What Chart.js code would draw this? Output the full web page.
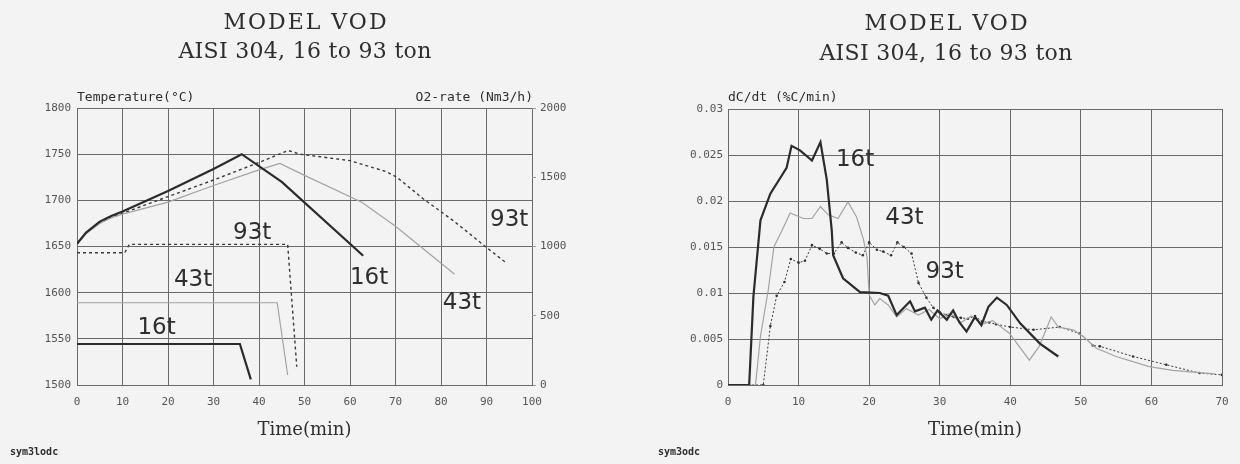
<!DOCTYPE html>
<html>
<head>
<meta charset="utf-8">
<script src="https://cdn.jsdelivr.net/npm/chart.js@4.4.1/dist/chart.umd.min.js"></script>
<style>
  body { margin: 0; background: #f3f3f3; }
  .panel { position: absolute; top: 0; width: 620px; height: 464px; }
  #panelIzq { left: 0; }
  #panelDer { left: 620px; }
</style>
</head>
<body>
<div class="panel" id="panelIzq"><canvas id="graficoTemp" width="620" height="464"></canvas></div>
<div class="panel" id="panelDer"><canvas id="graficoDecarb" width="620" height="464"></canvas></div>
<script>
// Temperatura (°C) frente a tiempo (min)
const tiempoTemp16 = [0, 2, 5, 7.5, 10, 20, 30, 36.2, 45, 62.9];
const temp16 = [1653, 1665, 1677, 1683, 1688, 1710, 1734, 1750, 1720, 1640];
const tiempoTemp43 = [0, 2, 5, 7.5, 10, 20, 30, 40, 44.6, 50, 62.6, 70, 83];
const temp43 = [1653, 1664, 1675, 1681, 1685, 1698, 1716, 1733, 1740, 1727, 1698, 1672, 1620];
const tiempoTemp93 = [0, 2, 5, 7.5, 10, 20, 30, 40, 46.4, 49, 60, 68, 70.3, 76, 82.7, 90, 94.4];
const temp93 = [1653, 1665, 1676, 1682, 1686, 1704, 1722, 1741, 1754, 1750, 1743, 1731, 1725, 1702, 1678, 1649, 1632];

// Caudal de O2 (Nm3/h)
const tiempoO2_16 = [0, 35.8, 38.2];
const o2_16 = [296, 296, 41];
const tiempoO2_43 = [0, 44, 46.3];
const o2_43 = [594, 594, 72];
const tiempoO2_93 = [0, 10.5, 11.5, 46.3, 48.3];
const o2_93 = [955, 955, 1015, 1015, 132];

// Velocidad de descarburación dC/dt (%C/min)
const tiempoDc16 = [0, 3, 3.6, 4.6, 6, 7.4, 8.3, 9, 10.2, 11.9, 13.1, 14, 14.7, 14.9, 16.3, 18.7, 21.5, 22.7, 23.9, 25.8, 26.5, 27.9, 28.8, 29.7, 31, 31.9, 32.8, 33.8, 35, 35.9, 36.9, 38.1, 39.5, 41.4, 44.2, 46.8];
const dc16 = [0, 0, 0.0096, 0.0179, 0.0208, 0.0225, 0.0236, 0.026, 0.0255, 0.0244, 0.0264, 0.0223, 0.0168, 0.0141, 0.0116, 0.0101, 0.0100, 0.0097, 0.0076, 0.0091, 0.008, 0.0084, 0.0071, 0.0081, 0.0071, 0.0081, 0.0068, 0.0058, 0.0074, 0.0065, 0.0085, 0.0095, 0.0087, 0.0067, 0.0045, 0.0031];
const tiempoDc43 = [0, 3.9, 4.6, 5.7, 6.5, 7.6, 8.8, 10.7, 11.9, 13.1, 14.2, 15.6, 17, 18.2, 19.2, 19.7, 20, 20.8, 21.5, 22.7, 23.9, 25.3, 27, 28.5, 30, 31.5, 33, 34.5, 36, 37.5, 39.9, 42.7, 44.1, 45.8, 46.8, 48.9, 50.3, 52.2, 55, 59.7, 63, 69];
const dc43 = [0, 0, 0.0053, 0.0103, 0.015, 0.0167, 0.0187, 0.0181, 0.0181, 0.0194, 0.0185, 0.0181, 0.0199, 0.0183, 0.0158, 0.0139, 0.0098, 0.0087, 0.0094, 0.0087, 0.0074, 0.0083, 0.0076, 0.0082, 0.0072, 0.0078, 0.0068, 0.0075, 0.0066, 0.007, 0.0056, 0.0027, 0.0042, 0.0074, 0.0063, 0.006, 0.0053, 0.004, 0.0031, 0.002, 0.0016, 0.0012];
const tiempoDc93 = [0, 5, 6, 6.9, 8, 8.9, 10, 10.9, 11.9, 13, 14, 15, 16.1, 17, 18.1, 19.1, 20, 21.1, 22, 23.1, 24, 24.9, 26, 27, 28.1, 29.1, 30, 31, 32, 33, 34, 35, 36, 37, 38, 40, 43.3, 47, 49.8, 51.7, 52.7, 57.4, 62.1, 66.8, 70];
const dc93 = [0, 0, 0.0064, 0.0097, 0.0112, 0.0137, 0.0133, 0.0135, 0.0152, 0.0148, 0.0143, 0.0143, 0.0155, 0.0149, 0.0144, 0.0141, 0.0155, 0.0147, 0.0145, 0.0141, 0.0155, 0.015, 0.0143, 0.0111, 0.0095, 0.0084, 0.0079, 0.0076, 0.0074, 0.0073, 0.0072, 0.0075, 0.0069, 0.0068, 0.0066, 0.0063, 0.006, 0.0063, 0.0056, 0.0043, 0.0042, 0.0031, 0.0022, 0.0013, 0.0011];

// Textos
const titulo = ['MODEL VOD', 'AISI 304, 16 to 93 ton'];
const tituloEjeX = 'Time(min)';

// Estilos de línea
const grueso = { borderColor: '#2b2b2b', borderWidth: 2.2 };
const fino = { borderColor: '#a3a3a3', borderWidth: 1.2 };
const punteado = { borderColor: '#3a3a3a', borderWidth: 1.4, borderDash: [3, 3] };
const punteadoConPuntos = { borderColor: '#3a3a3a', borderWidth: 1, borderDash: [2, 2], pointRadius: 1.3, pointBackgroundColor: '#333', pointBorderWidth: 0 };

const colorRejilla = '#6a6a6a';
const fuenteTicks = { family: 'DejaVu Sans Mono', size: 11 };

function serie(xs, ys, estilo, eje) {
    return Object.assign({
        data: xs.map((x, i) => ({ x: x, y: ys[i] })),
        yAxisID: eje,
        pointRadius: 0,
        tension: 0,
        fill: false
    }, estilo);
}

// Plugin que dibuja títulos, rótulos de ejes y etiquetas de cada serie
function crearTextos(cfg) {
    return {
        id: 'textos',
        afterDraw(chart) {
            const ctx = chart.ctx;
            const area = chart.chartArea;
            ctx.save();
            ctx.fillStyle = '#2e2e2e';
            ctx.textAlign = 'center';
            ctx.textBaseline = 'alphabetic';
            ctx.font = '22px "DejaVu Serif"';
            ctx.letterSpacing = '2px';
            ctx.fillText(titulo[0], cfg.tituloX + 1, cfg.tituloY[0]);
            ctx.letterSpacing = '0.3px';
            ctx.fillText(titulo[1], cfg.tituloX, cfg.tituloY[1]);
            ctx.letterSpacing = '0px';

            ctx.font = '18px "DejaVu Serif"';
            ctx.fillText(tituloEjeX, (area.left + area.right) / 2, 435);

            ctx.font = '13px "DejaVu Sans Mono"';
            ctx.textAlign = 'left';
            ctx.fillText(cfg.ejeIzq, area.left, 101);
            if (cfg.ejeDer) {
                ctx.textAlign = 'right';
                ctx.fillText(cfg.ejeDer, area.right + 1, 101);
            }

            ctx.font = 'bold 10px "DejaVu Sans Mono"';
            ctx.textAlign = 'left';
            ctx.fillText(cfg.pie, cfg.pieX, 455);

            ctx.font = '23px "DejaVu Sans"';
            ctx.textAlign = 'center';
            ctx.textBaseline = 'middle';
            cfg.etiquetas.forEach(e => {
                const x = chart.scales.x.getPixelForValue(e.x);
                const y = chart.scales[e.eje].getPixelForValue(e.y);
                ctx.fillText(e.texto, x, y);
            });
            ctx.restore();
        }
    };
}

function ejeX(max) {
    return {
        type: 'linear', min: 0, max: max,
        afterFit: (s) => { s.height = 79; },
        ticks: { stepSize: 10, color: '#555', font: fuenteTicks, padding: 11, maxRotation: 0 },
        grid: { color: colorRejilla, drawTicks: false },
        border: { color: colorRejilla }
    };
}

new Chart(document.getElementById('graficoTemp'), {
    type: 'line',
    data: {
        datasets: [
            serie(tiempoTemp16, temp16, grueso, 'y'),
            serie(tiempoTemp43, temp43, fino, 'y'),
            serie(tiempoTemp93, temp93, punteado, 'y'),
            serie(tiempoO2_16, o2_16, grueso, 'y2'),
            serie(tiempoO2_43, o2_43, fino, 'y2'),
            serie(tiempoO2_93, o2_93, punteado, 'y2')
        ]
    },
    options: {
        responsive: false,
        animation: false,
        devicePixelRatio: 1,
        layout: { padding: { top: 108, left: 0, right: 0, bottom: 0 } },
        plugins: { legend: { display: false }, tooltip: { enabled: false } },
        scales: {
            x: ejeX(100),
            y: {
                min: 1500, max: 1800,
                afterFit: (s) => { s.width = 77; },
                ticks: { stepSize: 50, color: '#555', font: fuenteTicks, padding: 6, callback: v => String(v) },
                grid: { color: colorRejilla, drawTicks: false },
                border: { color: colorRejilla }
            },
            y2: {
                position: 'right',
                min: 0, max: 2000,
                afterFit: (s) => { s.width = 88; },
                ticks: { stepSize: 500, color: '#555', font: fuenteTicks, padding: 4, callback: v => String(v) },
                grid: { drawOnChartArea: false, color: '#999', tickLength: 4 },
                border: { display: false }
            }
        }
    },
    plugins: [crearTextos({
        tituloX: 305, tituloY: [29, 58],
        ejeIzq: 'Temperature(°C)', ejeDer: 'O2-rate (Nm3/h)',
        pie: 'sym3lodc', pieX: 10,
        etiquetas: [
            { texto: '93t', x: 38.5, y: 1665, eje: 'y' },
            { texto: '43t', x: 25.5, y: 1614, eje: 'y' },
            { texto: '16t', x: 17.5, y: 1562, eje: 'y' },
            { texto: '16t', x: 64.2, y: 1616, eje: 'y' },
            { texto: '43t', x: 84.6, y: 1589, eje: 'y' },
            { texto: '93t', x: 95, y: 1679, eje: 'y' }
        ]
    })]
});

new Chart(document.getElementById('graficoDecarb'), {
    type: 'line',
    data: {
        datasets: [
            serie(tiempoDc16, dc16, grueso, 'y'),
            serie(tiempoDc43, dc43, fino, 'y'),
            serie(tiempoDc93, dc93, punteadoConPuntos, 'y')
        ]
    },
    options: {
        responsive: false,
        animation: false,
        devicePixelRatio: 1,
        layout: { padding: { top: 109, left: 0, right: 18, bottom: 0 } },
        plugins: { legend: { display: false }, tooltip: { enabled: false } },
        scales: {
            x: ejeX(70),
            y: {
                min: 0, max: 0.03,
                afterFit: (s) => { s.width = 108; },
                ticks: { stepSize: 0.005, color: '#555', font: fuenteTicks, padding: 5, callback: v => String(Math.round(v * 1000) / 1000) },
                grid: { color: colorRejilla, drawTicks: false },
                border: { color: colorRejilla }
            }
        }
    },
    plugins: [crearTextos({
        tituloX: 326, tituloY: [30, 60],
        ejeIzq: 'dC/dt (%C/min)',
        pie: 'sym3odc', pieX: 38,
        etiquetas: [
            { texto: '16t', x: 18, y: 0.0245, eje: 'y' },
            { texto: '43t', x: 25, y: 0.0182, eje: 'y' },
            { texto: '93t', x: 30.7, y: 0.0123, eje: 'y' }
        ]
    })]
});
</script>
</body>
</html>
